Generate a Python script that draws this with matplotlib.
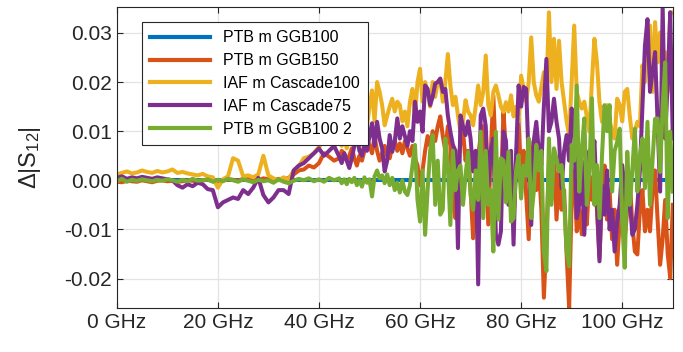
import numpy as np
import matplotlib
matplotlib.use("Agg")
import matplotlib.pyplot as plt
from matplotlib.ticker import FuncFormatter

plt.rcParams["font.family"] = ["Liberation Sans", "DejaVu Sans"]
plt.rcParams["mathtext.fontset"] = "custom"
plt.rcParams["mathtext.rm"] = "Liberation Sans"
plt.rcParams["mathtext.it"] = "Liberation Sans"

# frequency grid (GHz): 1 GHz steps below 44 GHz, 0.5 GHz steps above
freq = np.concatenate([np.arange(0, 44, 1.0), np.arange(44, 110.01, 0.5)])

# values in units of 1e-4
ggb150_lo = [-3, -4, -1, -2, -3, 0, -2, -4, -1, 0,
             -2, -1, -3, -2, 0, -1, -2, 0, 1, -2,
             -3, 0, 2, 1, -1, 3, 5, 2, 0, 4,
             2, -1, 3, 1, 5, 12, 20, 22, 30, 26,
             35, 55, 48, 40]
ggb150_hi = [45, 60, 55, 40, 50, 65, 45, 30, 50, 40, 60, 85, 70, 55, 90, 60, 40, 55, 70, 50,
             45, 70, 80, 60, 75, 55, 80, 65, 50, 70, 45, 30, -10, 20, 60, 90, 70, 100, 80, 110,
             130, 90, 60, 110, 70, -40, -77, 20, 80, 100, 40, 60, -20, -118, -60, 50, 90, 110, 30, -90,
             60, 173, 40, -60, -20, 139, 60, -40, 20, -80, 40, 120, 10, 60, -30, -120, 40, 80, -20, 30,
             -60, -239, -120, 40, -40, 60, -80, 20, -60, -20, -150, -260, -40, 20, -104, -60, -110, -40, -90, 10,
             -40, 20, -60, -158, -30, 30, -80, -20, -120, -60, -172, -80, -20, -120, -60, 0, -90, -145, -151, -60,
             -20, -104, -60, -104, -20, 20, -80, -172, -120, -40, -150, -199, -50]

cascade100_lo = [12, 15, 18, 14, 16, 20, 17, 15, 19, 16,
                 18, 22, 15, 17, 14, 12, 10, 13, 8, 6,
                 -15, 2, 8, 45, 40, 8, 10, 6, 12, 50,
                 10, 4, 0, 6, 2, 20, 28, 45, 48, 55,
                 68, 80, 90, 75]
cascade100_hi = [80, 70, 85, 65, 90, 75, 100, 80, 70, 95, 85, 110, 150, 183, 120, 200, 180, 153, 112, 132,
                 150, 166, 140, 160, 153, 120, 140, 110, 160, 186, 130, 200, 227, 160, 200, 180, 150, 200, 170, 200,
                 207, 160, 200, 257, 193, 153, 170, 132, 99, 120, 163, 140, 132, 112, 150, 193, 153, 180, 254, 153,
                 132, 180, 193, 173, 150, 139, 159, 140, 173, 130, 150, 120, 213, 186, 160, 200, 291, 200, 173, 160,
                 190, 220, 180, 342, 200, 288, 186, 284, 200, 160, 120, 92, 200, 315, 180, 160, 146, 160, 130, 99,
                 200, 288, 240, 159, 119, 140, 153, 120, 100, 85, 166, 153, 120, 180, 186, 130, 85, 100, 119, 110,
                 234, 200, 288, 315, 180, 322, 240, 301, 200, 261, 180, 342, 342]

cascade75_lo = [5, 8, 3, 6, 4, 7, 5, 3, 6, 4,
                2, 0, -10, -15, -8, -12, -5, -8, -18, -20,
                -55, -45, -40, -35, -38, -20, -28, -15, 5, -30,
                -45, -35, -20, -20, -28, 20, 30, 35, 45, 55,
                65, 50, 60, 70]
cascade75_hi = [48, 35, 55, 40, 25, 45, 70, 90, 60, 50, 75, 60, 90, 116, 70, 119, 85, 65, 18, 40,
                92, 58, 80, 126, 85, 110, 90, 70, 100, 80, 160, 119, 140, 99, 193, 186, 153, 170, 197, 200,
                207, 180, 186, 132, 99, 72, 60, -138, 132, 110, 92, 120, 85, 18, 60, -212, 132, 146, 110, -10,
                60, 85, -111, -131, -104, 99, 80, -50, 60, -131, 50, 193, 150, 190, 186, 40, -91, 80, 119, 60,
                31, 150, 247, 100, 119, 166, 119, 85, -16, 60, 92, 40, 146, 100, -77, -50, 40, -111, 18, 60,
                40, 80, -40, -165, -10, -70, 20, -100, -60, -145, -84, -50, 31, -23, -60, -40, -111, -100, -50, 20,
                150, 274, 328, 180, 220, 261, 120, -23, 355, 85, 200, 342, 85]

ggb100_2_lo = [-2, 3, -3, 1, -1, 2, 0, -2, 1, -1,
               2, 0, -3, 1, -2, 3, -1, 0, 2, -3,
               1, -2, 3, 0, -3, 2, -1, -4, 1, -2,
               0, -5, 2, -3, -6, -1, 3, 0, 4, -2,
               2, -3, 5, 0]
ggb100_2_hi = [4, -6, 2, -8, 3, -4, 5, -10, 0, -13, 6, -5, 2, -33, 8, 20, 4, 10, -6, 12,
               -10, 5, -20, -5, -25, 0, -23, -30, -10, 30, 72, -40, -84, 20, -111, -20, 60, 92, -50, 40,
               -70, -60, 85, 30, -91, 60, -20, 20, 30, -50, 10, 58, -30, -60, 20, -40, 99, -77, 60, -50,
               -20, -145, 99, -80, 45, 40, -45, 58, -84, -77, 20, 51, -37, 30, 10, 85, -77, -23, 72, 20,
               60, -145, -185, 85, -50, 65, 44, 18, 31, -40, -145, -175, 72, 40, 193, -23, 60, 126, -50, 18,
               167, -50, 31, -77, 50, 153, 100, 153, -23, 60, 78, 105, -84, -178, 58, -50, 20, 105, -23, 51,
               85, -16, 119, -50, 40, 125, 126, 17, 150, 240, -77, 99, -23]

# PTB m GGB100 is the reference itself: zero difference at every point
ggb100 = [0.0] * len(freq)

series = [
    ("PTB m GGB100", ggb100, "#0072BD"),
    ("PTB m GGB150", np.array(ggb150_lo + ggb150_hi) * 1e-4, "#D95319"),
    ("IAF m Cascade100", np.array(cascade100_lo + cascade100_hi) * 1e-4, "#EDB120"),
    ("IAF m Cascade75", np.array(cascade75_lo + cascade75_hi) * 1e-4, "#7E2F8E"),
    ("PTB m GGB100 2", np.array(ggb100_2_lo + ggb100_2_hi) * 1e-4, "#77AC30"),
]

fig = plt.figure(figsize=(6.83, 3.52), dpi=100)
ax = fig.add_axes([0.171, 0.125, 0.814, 0.854])
for label, vals, color in series:
    ax.plot(freq, vals, color=color, linewidth=2.9, label=label)

ax.set_xlim(0, 110)
ax.set_ylim(-0.026, 0.0352)
ax.set_xticks([0, 20, 40, 60, 80, 100])
ax.set_yticks([-0.02, -0.01, 0.0, 0.01, 0.02, 0.03])
ax.xaxis.set_major_formatter(FuncFormatter(lambda v, p: f"{v:.0f} GHz"))
ax.yaxis.set_major_formatter(FuncFormatter(lambda v, p: f"{v:.2f}"))
ax.grid(True, color="#e3e3e3", linewidth=0.9)
ax.set_axisbelow(True)
ax.tick_params(direction="in", top=True, right=True, length=4, labelsize=15,
               colors="#262626", width=0.8)
for s in ax.spines.values():
    s.set_color("#262626")
    s.set_linewidth(0.8)
ax.set_ylabel(r"$\Delta|\mathrm{S}_{12}|$", fontsize=17, color="#262626", labelpad=15)

leg = ax.legend(loc="upper left", bbox_to_anchor=(0.0445, 0.951), borderaxespad=0,
                fontsize=11.5, handlelength=3.8, labelspacing=0.5, borderpad=0.5,
                fancybox=False, framealpha=1, edgecolor="#262626")
leg.get_frame().set_linewidth(0.8)
for h in leg.get_lines():
    h.set_linewidth(3)

fig.savefig("out.png", dpi=100)
